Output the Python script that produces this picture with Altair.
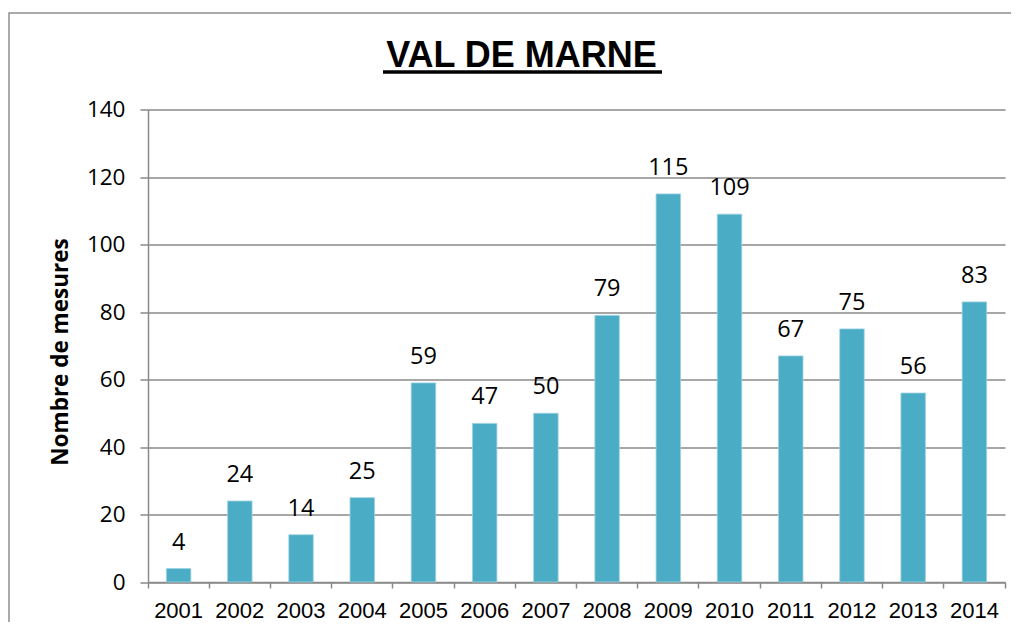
import altair as alt
import pandas as pd

TITLE = "VAL DE MARNE"
Y_TITLE = "Nombre de mesures"
years = ["2001", "2002", "2003", "2004", "2005", "2006", "2007",
         "2008", "2009", "2010", "2011", "2012", "2013", "2014"]
values = [4, 24, 14, 25, 59, 47, 50, 79, 115, 109, 67, 75, 56, 83]
y_ticks = [0, 20, 40, 60, 80, 100, 120, 140]

df = pd.DataFrame({"year": years, "value": values})

W, H = 857, 472.5
GRAY = "#8a8a8a"
BAR = "#4BACC6"

x_main = alt.X("year:N", sort=years, title=None,
               scale=alt.Scale(paddingInner=0, paddingOuter=0),
               axis=alt.Axis(labelAngle=0, labelFont="Liberation Sans", labelFontSize=22,
                             labelColor="black", labelPadding=12, ticks=True,
                             tickSize=6, tickColor=GRAY, tickWidth=1.5,
                             bandPosition=1, tickExtra=True,
                             domainColor=GRAY, domainWidth=1.5, grid=False))
y_main = alt.Y("value:Q", title=Y_TITLE,
               scale=alt.Scale(domain=[0, 140], nice=False),
               axis=alt.Axis(values=y_ticks, labelFont="Open Sans", labelFontSize=22.5,
                             labelColor="black", labelPadding=15, tickSize=8,
                             tickColor=GRAY, tickWidth=1.5, domainColor=GRAY,
                             domainWidth=1.5, grid=True, gridColor=GRAY, gridWidth=1.5,
                             titleFont="Open Sans", titleFontWeight="bold",
                             titleFontSize=22.5, titleColor="black",
                             titleAngle=270, titleBaseline="middle", titleAlign="center",
                             titleX=-88, titleY=242))

bars = alt.Chart(df).mark_bar(color=BAR, stroke="#9ed2df", strokeWidth=0.8,
                              width=alt.RelativeBandSize(0.4)).encode(x=x_main, y=y_main)

labels = alt.Chart(df).mark_text(font="Open Sans", fontSize=23.5, color="black",
                                 baseline="alphabetic", dy=-19).encode(
    x=alt.X("year:N", sort=years), y="value:Q", text="value:Q")

one = alt.Data(values=[{"k": 1}])
frame = alt.Chart(one).mark_rect(fill=None, stroke="#8f8f8f", strokeWidth=1.5).encode(
    x=alt.value(-139), x2=alt.value(W + 200), y=alt.value(-96.5), y2=alt.value(H + 200))

title = alt.Chart(one).mark_text(text=TITLE, font="Liberation Sans", fontWeight="bold",
                                 fontSize=36, color="black", baseline="alphabetic",
                                 align="center").encode(
    x=alt.value(373.5), y=alt.value(-42.5))
underline = alt.Chart(one).mark_rule(color="black", strokeWidth=3.5).encode(
    x=alt.value(235), x2=alt.value(514), y=alt.value(-37.5))

chart = alt.layer(frame, bars, labels, title, underline).properties(
    width=W, height=H,
    background="white",
    autosize=alt.AutoSizeParams(type="none"),
    padding={"left": 140, "top": 101.5, "right": 6, "bottom": 40},
).configure_view(stroke="transparent", strokeWidth=0)

chart.save("out.html", embed_options={"renderer": "svg", "actions": False})
